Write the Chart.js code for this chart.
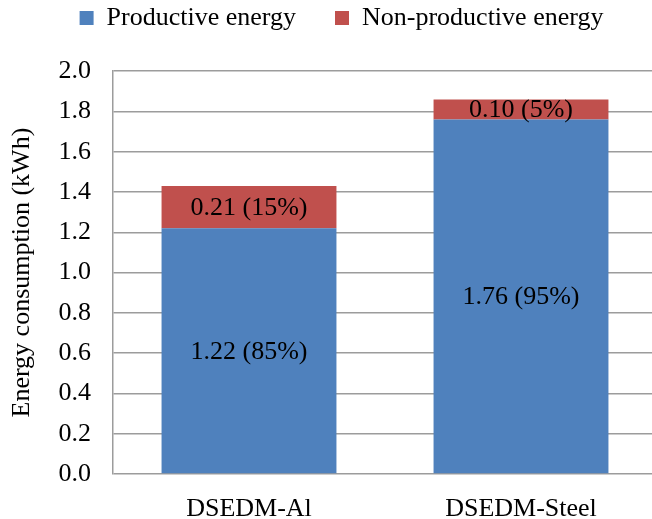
<!DOCTYPE html>
<html>
<head>
<meta charset="utf-8">
<script src="https://cdn.jsdelivr.net/npm/chart.js@4"></script>
<style>
  html, body { margin: 0; padding: 0; background: #fff; }
  #wrap { width: 652px; height: 519px; }
</style>
</head>
<body>
<div id="wrap"><canvas id="myChart" width="652" height="519"></canvas></div>
<script>
// Chart data
const categories = ['DSEDM-Al', 'DSEDM-Steel'];
const productive = [1.22, 1.76];
const nonProductive = [0.21, 0.10];
const productiveLabels = ['1.22 (85%)', '1.76 (95%)'];
const nonProductiveLabels = ['0.21 (15%)', '0.10 (5%)'];
const yTicks = [0.0, 0.2, 0.4, 0.6, 0.8, 1.0, 1.2, 1.4, 1.6, 1.8, 2.0];

const serif = '"Liberation Serif", "Times New Roman", serif';

// draws the value text in the middle of each bar piece
const barText = {
    id: 'barText',
    afterDatasetsDraw(chart) {
        const ctx = chart.ctx;
        const texts = [productiveLabels, nonProductiveLabels];
        ctx.save();
        ctx.font = '26px ' + serif;
        ctx.fillStyle = '#000';
        ctx.textAlign = 'center';
        ctx.textBaseline = 'middle';
        chart.data.datasets.forEach((ds, i) => {
            chart.getDatasetMeta(i).data.forEach((bar, j) => {
                const mid = (bar.y + bar.base) / 2;
                ctx.fillText(texts[i][j], bar.x, mid + 1);
            });
        });
        ctx.restore();
    }
};

// the plot in the original runs a little past the right edge of the picture
const widenX = {
    id: 'widenX',
    afterLayout(chart) {
        const x = chart.scales.x;
        x.right += 5;
        x.width += 5;
        x.configure();
    }
};

const ctx = document.getElementById('myChart');

new Chart(ctx, {
    type: 'bar',
    data: {
        labels: categories,
        datasets: [
            {
                label: 'Productive energy',
                data: productive,
                backgroundColor: '#4F81BD',
                borderWidth: 0
            },
            {
                label: 'Non-productive energy',
                data: nonProductive,
                backgroundColor: '#C0504D',
                borderWidth: 0
            }
        ]
    },
    options: {
        responsive: false,
        animation: false,
        layout: { padding: { top: -34, right: 0, left: 31, bottom: 0 } },
        datasets: {
            bar: { categoryPercentage: 0.643, barPercentage: 1.0 }
        },
        plugins: {
            tooltip: { enabled: false },
            legend: {
                position: 'top',
                labels: {
                    font: { family: serif, size: 26 },
                    color: '#000',
                    boxWidth: 14,
                    boxHeight: 14,
                    padding: 39
                }
            },
            // empty title used as a spacer under the legend
            title: {
                display: true,
                text: '',
                weight: 500,
                font: { size: 1 },
                padding: { top: 0, bottom: 29 }
            }
        },
        scales: {
            x: {
                stacked: true,
                grid: { display: false },
                border: { display: false },
                ticks: {
                    font: { family: serif, size: 26 },
                    color: '#000',
                    padding: 12
                },
                afterFit: (s) => { s.height = 45; }
            },
            y: {
                stacked: true,
                min: 0,
                max: 2.0,
                afterBuildTicks: (s) => { s.ticks = yTicks.map(v => ({ value: v })); },
                ticks: {
                    font: { family: serif, size: 26 },
                    color: '#000',
                    padding: 22,
                    callback: (v) => Number(v).toFixed(1)
                },
                grid: { color: '#9C9C9C', lineWidth: 1.5, drawTicks: false },
                border: { display: true, color: '#9C9C9C', width: 1.5 },
                title: {
                    display: true,
                    text: 'Energy consumption (kWh)',
                    font: { family: serif, size: 26 },
                    color: '#000',
                    padding: { top: -24, bottom: 0 }
                },
                afterFit: (s) => { s.width = 82; }
            }
        }
    },
    plugins: [barText, widenX]
});
</script>
</body>
</html>
